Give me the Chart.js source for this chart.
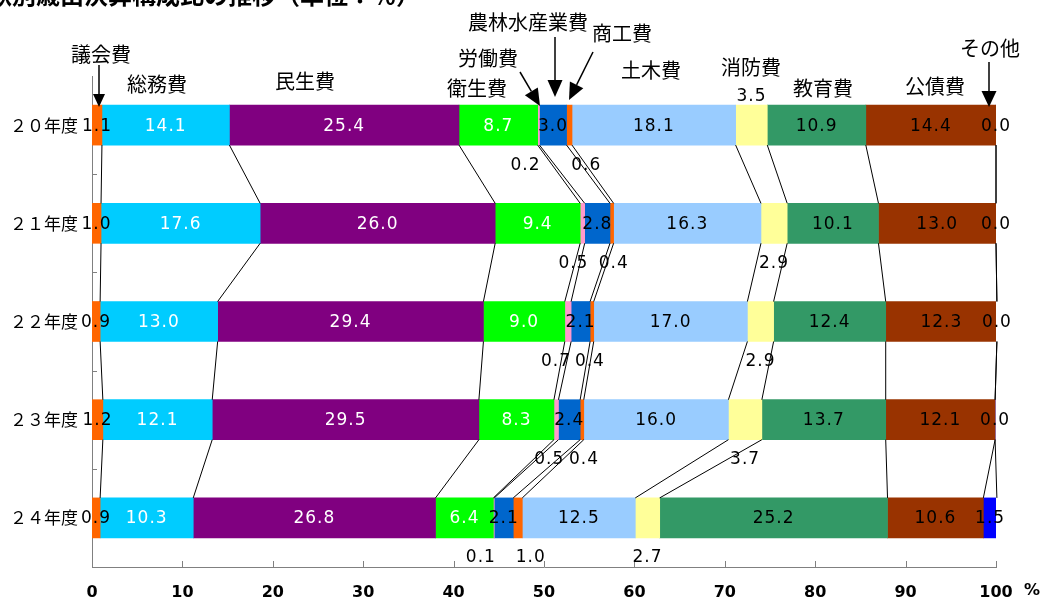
<!DOCTYPE html>
<html lang="ja">
<head>
<meta charset="utf-8">
<title>歳出決算構成比の推移</title>
<script src="https://cdn.jsdelivr.net/npm/chart.js@4.4.0/dist/chart.umd.min.js"></script>
<style>
  body { margin: 0; background: #fff; }
  #costChart { display: block; }
</style>
</head>
<body>
<canvas id="costChart" width="1047" height="608"></canvas>
<script>
// 年度
const years = ['２０年度', '２１年度', '２２年度', '２３年度', '２４年度'];
// 目的別の区分
const categories = ['議会費', '総務費', '民生費', '衛生費', '労働費', '農林水産業費', '商工費', '土木費', '消防費', '教育費', '公債費', 'その他'];

// 構成比（％）
const gikai  = [1.1, 1.0, 0.9, 1.2, 0.9];
const somu   = [14.1, 17.6, 13.0, 12.1, 10.3];
const minsei = [25.4, 26.0, 29.4, 29.5, 26.8];
const eisei  = [8.7, 9.4, 9.0, 8.3, 6.4];
const rodo   = [0.2, 0.5, 0.7, 0.5, 0.1];
const norin  = [3.0, 2.8, 2.1, 2.4, 2.1];
const shoko  = [0.6, 0.4, 0.4, 0.4, 1.0];
const doboku = [18.1, 16.3, 17.0, 16.0, 12.5];
const shobo  = [3.5, 2.9, 2.9, 3.7, 2.7];
const kyoiku = [10.9, 10.1, 12.4, 13.7, 25.2];
const kosai  = [14.4, 13.0, 12.3, 12.1, 10.6];
const sonota = [0.0, 0.0, 0.0, 0.0, 1.5];

const xTicks = [0, 10, 20, 30, 40, 50, 60, 70, 80, 90, 100];

const seriesValues = [gikai, somu, minsei, eisei, rodo, norin, shoko, doboku, shobo, kyoiku, kosai, sonota];
const colors = ['#FF6600', '#00CCFF', '#800080', '#00FF00', '#FF99CC', '#0066CC',
                '#FF6600', '#99CCFF', '#FFFF99', '#339966', '#993300', '#0000FF'];
// white text on the darker / saturated segments
const whiteText = ['総務費', '民生費', '衛生費'];

// small segments get their label outside the bar
function labelPlace(cat, row) {
  if (cat === '労働費' || cat === '商工費') return 'below';
  if (cat === '消防費') return row === 0 ? 'above' : 'below';
  return 'in';
}
// horizontal nudge (px) for the outside labels so they don't collide
const nudge = {
  '労働費': [-13, -9, -12, -7, -13],
  '商工費': [17, 2, -2, 2, 13]
};

// category captions above the first bar
const captions = [
  ['議会費', 101, 54], ['総務費', 157, 84], ['民生費', 305, 81], ['衛生費', 477, 88],
  ['労働費', 488, 58], ['農林水産業費', 528, 22], ['商工費', 622, 33], ['土木費', 651, 70],
  ['消防費', 751, 67], ['教育費', 823, 88], ['公債費', 935, 86], ['その他', 990, 48]
];
// pointer arrows: x1, y1, x2, y2, head length, head width
const arrows = [
  [99, 65, 99, 107, 13, 12],
  [520, 72, 540, 106, 17, 15],
  [555, 37, 555, 97, 17, 15],
  [593, 52, 569, 100, 17, 15],
  [989, 62, 989, 107, 16, 15]
];

const datasets = categories.map((name, i) => ({
  label: name,
  data: seriesValues[i],
  backgroundColor: colors[i],
  borderWidth: 0,
  barThickness: 40
}));

function drawArrow(ctx, x1, y1, x2, y2, len, wid) {
  const ang = Math.atan2(y2 - y1, x2 - x1);
  const bx = x2 - len * Math.cos(ang), by = y2 - len * Math.sin(ang);
  ctx.beginPath();
  ctx.moveTo(x1, y1);
  ctx.lineTo(bx, by);
  ctx.stroke();
  ctx.beginPath();
  ctx.moveTo(x2, y2);
  ctx.lineTo(bx + wid / 2 * Math.sin(ang), by - wid / 2 * Math.cos(ang));
  ctx.lineTo(bx - wid / 2 * Math.sin(ang), by + wid / 2 * Math.cos(ang));
  ctx.closePath();
  ctx.fill();
}

const decorations = {
  id: 'decorations',
  afterDatasetsDraw(chart) {
    const ctx = chart.ctx;
    const xs = chart.scales.x;
    const area = chart.chartArea;
    ctx.save();

    // connector lines between the stacked boundaries of neighbouring years
    ctx.strokeStyle = '#000';
    ctx.lineWidth = 1;
    chart.data.datasets.forEach((ds, d) => {
      const els = chart.getDatasetMeta(d).data;
      for (let r = 0; r < els.length - 1; r++) {
        const a = els[r].getProps(['x', 'y', 'height'], true);
        const b = els[r + 1].getProps(['x', 'y', 'height'], true);
        ctx.beginPath();
        ctx.moveTo(a.x, a.y + a.height / 2);
        ctx.lineTo(b.x, b.y - b.height / 2);
        ctx.stroke();
      }
    });

    // inward ticks
    ctx.strokeStyle = '#808080';
    xTicks.forEach(v => {
      const px = Math.round(xs.getPixelForValue(v)) + 0.5;
      ctx.beginPath();
      ctx.moveTo(px, area.bottom);
      ctx.lineTo(px, area.bottom - 6);
      ctx.stroke();
    });
    const slot = (area.bottom - area.top) / years.length;
    for (let i = 1; i < years.length; i++) {
      const py = Math.round(area.top + slot * i) + 0.5;
      ctx.beginPath();
      ctx.moveTo(area.left, py);
      ctx.lineTo(area.left + 5, py);
      ctx.stroke();
    }

    // value labels
    ctx.font = '17px "DejaVu Sans"';
    ctx.letterSpacing = '1px';
    ctx.textAlign = 'center';
    ctx.textBaseline = 'middle';
    chart.data.datasets.forEach((ds, d) => {
      const cat = ds.label;
      chart.getDatasetMeta(d).data.forEach((el, r) => {
        const p = el.getProps(['x', 'y', 'base', 'height'], true);
        let cx = (p.x + p.base) / 2, cy = p.y;
        const place = labelPlace(cat, r);
        if (place === 'below') cy = p.y + p.height / 2 + 19;
        if (place === 'above') cy = p.y - p.height / 2 - 10;
        if (nudge[cat]) cx += nudge[cat][r];
        ctx.fillStyle = (place === 'in' && whiteText.includes(cat)) ? '#fff' : '#000';
        ctx.fillText(ds.data[r].toFixed(1), cx, cy + 1);
      });
    });
    ctx.letterSpacing = '0px';

    // captions and arrows
    ctx.fillStyle = '#000';
    ctx.font = '20px "Noto Sans CJK JP"';
    captions.forEach(([t, x, y]) => ctx.fillText(t, x, y));
    ctx.strokeStyle = '#000';
    ctx.lineWidth = 1.5;
    arrows.forEach(a => drawArrow(ctx, ...a));

    // unit mark
    ctx.font = 'bold 16px "DejaVu Sans"';
    ctx.fillText('%', 1032, 591);

    // heading (runs off the top edge)
    ctx.textAlign = 'left';
    ctx.textBaseline = 'alphabetic';
    ctx.font = 'bold 24px "Noto Sans CJK JP"';
    ctx.fillText('款別歳出決算構成比の推移（単位：％）', -12, 4);

    ctx.restore();
  }
};

new Chart(document.getElementById('costChart'), {
  type: 'bar',
  data: { labels: years, datasets: datasets },
  options: {
    indexAxis: 'y',
    responsive: false,
    animation: false,
    layout: { padding: { top: 76, right: 51, left: 0, bottom: 0 } },
    plugins: {
      legend: { display: false },
      tooltip: { enabled: false }
    },
    scales: {
      x: {
        stacked: true,
        min: 0,
        max: 100,
        ticks: {
          stepSize: 10,
          color: '#000',
          padding: 16,
          font: { family: 'DejaVu Sans', size: 16, weight: 'bold' }
        },
        grid: { display: false, drawTicks: false },
        border: { color: '#808080' },
        afterFit(s) { s.height = 41; }
      },
      y: {
        stacked: true,
        ticks: {
          color: '#000',
          padding: 14,
          font: { family: 'Noto Sans CJK JP', size: 17 }
        },
        grid: { display: false, drawTicks: false },
        border: { color: '#808080' },
        afterFit(s) { s.width = 92; }
      }
    }
  },
  plugins: [decorations]
});
</script>
</body>
</html>
